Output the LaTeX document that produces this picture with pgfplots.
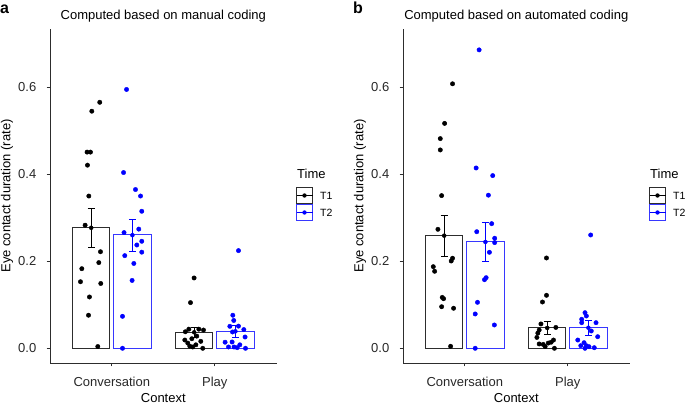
\documentclass[border=0pt]{standalone}
\usepackage{pgfplots}
\pgfplotsset{compat=1.18}
\usepackage{fontspec}
\setmainfont{Liberation Sans}
\definecolor{tblue}{RGB}{0,0,255}
\definecolor{barblue}{RGB}{55,55,255}
\definecolor{axgray}{RGB}{45,45,45}
\definecolor{txtgray}{RGB}{40,40,40}
\newcommand{\fs}{\fontsize{13}{15}\selectfont}
\pgfplotsset{
  myaxis/.style={
    anchor=south west, scale only axis, width=226.6pt, height=334pt,
    xmin=0.4, xmax=2.6, ymin=-0.0338, ymax=0.734,
    axis lines*=left, axis line style={axgray, line width=0.8pt},
    tick align=outside, major tick length=3.5pt,
    tick style={axgray, line width=0.8pt},
    xtick={1,2}, xticklabels={Conversation,Play},
    ytick={0,0.2,0.4,0.6},
    /pgf/number format/assume math mode=true,
    yticklabel style={/pgf/number format/.cd, fixed, fixed zerofill, precision=1, /tikz/.cd,
      font=\fs, text=txtgray, anchor=east, inner sep=0pt, xshift=-10pt},
    xticklabel style={font=\fs, text=txtgray, anchor=base, inner sep=0pt, yshift=-19.7pt},
    clip=false,
  },
  bart1/.style={ybar, bar width=0.36, bar shift=0pt, draw=axgray, fill=white, line width=0.8pt},
  bart2/.style={ybar, bar width=0.36, bar shift=0pt, draw=barblue, fill=white, line width=0.8pt},
  pts1/.style={only marks, mark=*, mark size=2.2pt, black, mark options={draw=black, fill=black}},
  pts2/.style={only marks, mark=*, mark size=2.2pt, tblue, mark options={draw=tblue, fill=tblue}},
  eb1/.style={black, only marks, mark=none, error bars/.cd, y dir=both, y explicit,
    error bar style={black, line width=0.8pt}, error mark options={black, rotate=90, mark size=3.5pt, line width=0.8pt}},
  eb2/.style={tblue, only marks, mark=none, error bars/.cd, y dir=both, y explicit,
    error bar style={tblue, line width=0.8pt}, error mark options={tblue, rotate=90, mark size=3.5pt, line width=0.8pt}},
}
\begin{document}
\begin{tikzpicture}[x=1pt, y=1pt]
\path[use as bounding box] (0,0) rectangle (685,404);

% ---------- Panel a ----------
\begin{axis}[myaxis, at={(50pt,41pt)}]
\addplot[bart1] coordinates {(0.8,0.277) (1.8,0.036)};
\addplot[bart2] coordinates {(1.2,0.261) (2.2,0.039)};
\addplot[eb1] coordinates {(0.8,0.277) +- (0,0.045) (1.8,0.0368) +- (0,0.0108)};
\addplot[eb2] coordinates {(1.2,0.260) +- (0,0.0365) (2.2,0.039) +- (0,0.0146)};
\addplot[pts1] coordinates {
(0.883,0.5655) (0.806,0.545) (0.760,0.451) (0.793,0.451) (0.764,0.421)
(0.777,0.350) (0.741,0.283) (0.890,0.222) (0.874,0.197) (0.709,0.183)
(0.696,0.153) (0.893,0.149) (0.783,0.118) (0.774,0.076) (0.864,0.004)
(1.799,0.1617) (1.764,0.105) (1.748,0.044) (1.845,0.044) (1.890,0.042)
(1.714,0.038) (1.825,0.028) (1.777,0.022) (1.709,0.019) (1.864,0.016)
(1.738,0.012) (1.816,0.008) (1.757,0.005) (1.786,0.003) (1.883,0.0)
};
\addplot[pts2] coordinates {
(1.143,0.595) (1.114,0.404) (1.230,0.365) (1.279,0.350) (1.291,0.315)
(1.262,0.274) (1.119,0.266) (1.291,0.246) (1.243,0.2375) (1.291,0.221)
(1.126,0.213) (1.214,0.195) (1.197,0.156) (1.104,0.0735) (1.104,0.0)
(2.230,0.2245) (2.175,0.076) (2.184,0.064) (2.146,0.0505) (2.230,0.051)
(2.282,0.043) (2.172,0.0375) (2.294,0.026) (2.100,0.014) (2.168,0.0145)
(2.133,0.003) (2.187,0.003) (2.217,0.0015) (2.298,0.0) (2.243,0.008)
};
\end{axis}

% ---------- Panel b ----------
\begin{axis}[myaxis, at={(403pt,41pt)}]
\addplot[bart1] coordinates {(0.8,0.259) (1.8,0.0474)};
\addplot[bart2] coordinates {(1.2,0.245) (2.2,0.0474)};
\addplot[eb1] coordinates {(0.8,0.2589) +- (0,0.0469) (1.8,0.0468) +- (0,0.0146)};
\addplot[eb2] coordinates {(1.2,0.2444) +- (0,0.0444) (2.2,0.0472) +- (0,0.0172)};
\addplot[pts1] coordinates {
(0.881,0.608) (0.804,0.517) (0.762,0.482) (0.762,0.456) (0.775,0.351)
(0.739,0.2735) (0.881,0.207) (0.868,0.2007) (0.694,0.1876) (0.707,0.177)
(0.781,0.117) (0.794,0.114) (0.775,0.0956) (0.891,0.092) (0.862,0.0046)
(1.793,0.2076) (1.793,0.1218) (1.754,0.1064) (1.739,0.056) (1.884,0.048)
(1.722,0.042) (1.709,0.035) (1.700,0.025) (1.861,0.019) (1.838,0.014)
(1.722,0.010) (1.761,0.009) (1.810,0.012) (1.780,0.004) (1.870,0.0)
};
\addplot[pts2] coordinates {
(1.139,0.686) (1.110,0.4145) (1.271,0.397) (1.229,0.352) (1.261,0.2865)
(1.116,0.268) (1.290,0.253) (1.290,0.243) (1.239,0.2207) (1.207,0.1623)
(1.191,0.1577) (1.123,0.1057) (1.101,0.0789) (1.287,0.0536) (1.101,0.0)
(2.222,0.2605) (2.167,0.0819) (2.180,0.0743) (2.135,0.0667) (2.135,0.0589)
(2.274,0.0589) (2.228,0.0398) (2.290,0.0267) (2.097,0.019) (2.158,0.0129)
(2.126,0.006) (2.180,0.006) (2.206,0.0037) (2.257,0.0014) (2.167,0.0)
};
\end{axis}

% ---------- Titles and labels ----------
\node[anchor=base west, inner sep=0pt, font=\fontsize{16}{18}\selectfont\bfseries] at (0,390.7) {a};
\node[anchor=base west, inner sep=0pt, font=\fontsize{16}{18}\selectfont\bfseries] at (353,390.7) {b};
\node[anchor=base, inner sep=0pt, font=\fs] at (163.3,384.5) {Computed based on manual coding};
\node[anchor=base, inner sep=0pt, font=\fs] at (516.3,384.5) {Computed based on automated coding};
\node[rotate=90, inner sep=0pt, font=\fs] at (7,208) {Eye contact duration (rate)};
\node[rotate=90, inner sep=0pt, font=\fs] at (360,208) {Eye contact duration (rate)};
\node[anchor=base, inner sep=0pt, font=\fs] at (163.3,1.5) {Context};
\node[anchor=base, inner sep=0pt, font=\fs] at (516.3,1.5) {Context};

% ---------- Legends ----------
\foreach \dx in {0,353} {
  \node[anchor=base west, inner sep=0pt, font=\fs] at (297+\dx,225) {Time};
  \draw[axgray, line width=0.8pt, fill=white] (296.5+\dx,200.5) rectangle (312.5+\dx,216.5);
  \draw[black, line width=0.8pt] (296.5+\dx,208.5) -- (312.5+\dx,208.5);
  \fill[black] (304.5+\dx,208.5) circle (2.2);
  \draw[barblue, line width=0.8pt, fill=white] (296.5+\dx,183.5) rectangle (312.5+\dx,199.5);
  \draw[tblue, line width=0.8pt] (296.5+\dx,191.5) -- (312.5+\dx,191.5);
  \fill[tblue] (304.5+\dx,191.5) circle (2.2);
  \node[anchor=west, inner sep=0pt, font=\fontsize{10.5}{12}\selectfont] at (320+\dx,208.5) {T1};
  \node[anchor=west, inner sep=0pt, font=\fontsize{10.5}{12}\selectfont] at (320+\dx,191.5) {T2};
}
\end{tikzpicture}
\end{document}
